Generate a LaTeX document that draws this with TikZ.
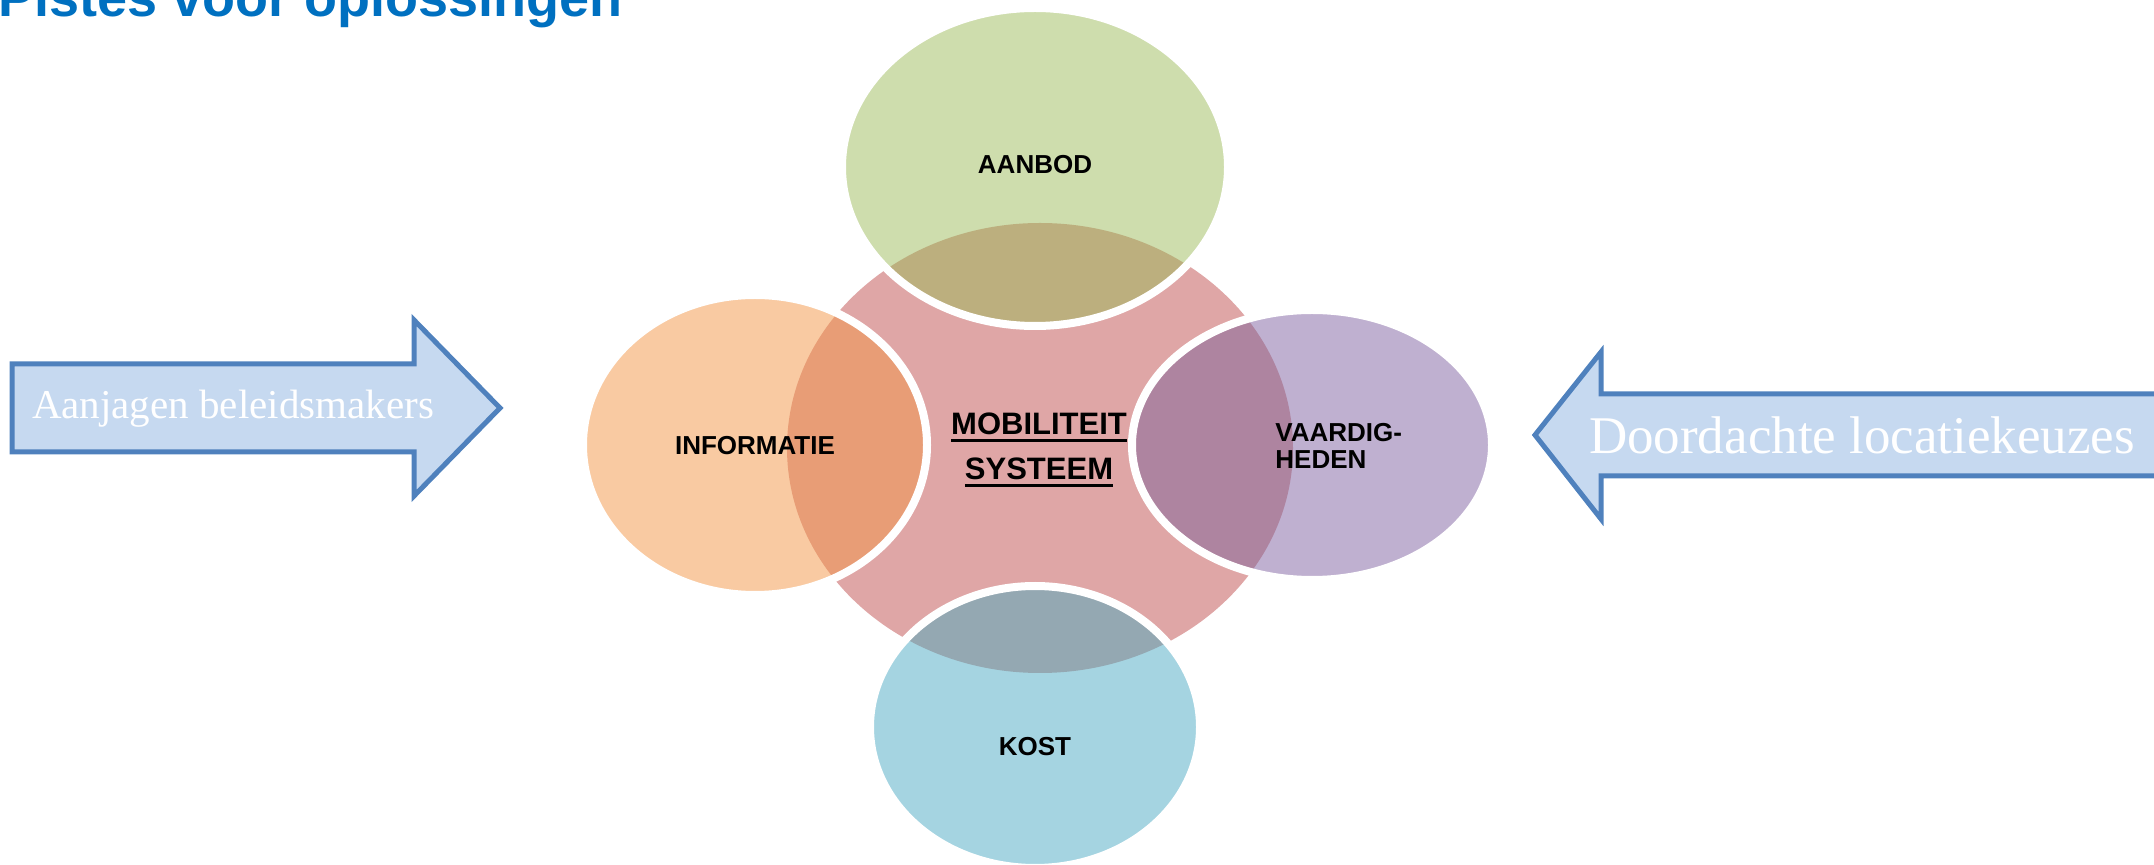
\documentclass[tikz,border=0pt]{standalone}
\usepackage{fontspec}
\setmainfont{Liberation Serif}
\setsansfont{Liberation Sans}
\usepackage{tikz}
\newcommand\mbunder[1]{\setbox0\hbox{#1}\rlap{\vrule height -2pt depth 3.4pt width \wd0}\box0}

\begin{document}
\begin{tikzpicture}[x=0.5pt,y=0.5pt,yscale=-1,xscale=1,
  lbl/.style={font=\sffamily\bfseries\fontsize{13}{15}\selectfont, text=black, inner sep=0},
  ctr/.style={font=\sffamily\bfseries\fontsize{15.5}{18}\selectfont, text=black, inner sep=0},
  rim/.style={draw=white, line width=4pt},
  blockarrow/.style={draw={rgb, 255:red, 79; green, 129; blue, 189 }, fill={rgb, 255:red, 198; green, 217; blue, 240 }, line width=2.5pt, line join=miter},
  arrowtext/.style={text=white, inner sep=0}]
\useasboundingbox (0,0) rectangle (2154,865);

%Text Node: title
\node [anchor=base west, inner sep=0, text={rgb, 255:red, 0; green, 112; blue, 192 }, font=\sffamily\bfseries\fontsize{27}{32}\selectfont] (title) at (-2,17) {Pistes voor oplossingen};

%Shape: Ellipse [centre]
\fill [color={rgb, 255:red, 223; green, 166; blue, 166 }] (1040,448) ellipse [x radius=253, y radius=225];

%Shape: Ellipse [top]
\fill [color={rgb, 255:red, 206; green, 221; blue, 173 }] (1035,167) ellipse [x radius=193, y radius=159];
\begin{scope}
\clip (1040,448) ellipse [x radius=253, y radius=225];
\fill [color={rgb, 255:red, 188; green, 175; blue, 126 }] (1035,167) ellipse [x radius=193, y radius=159];
\end{scope}
\draw [rim] (1035,167) ellipse [x radius=193, y radius=159];

%Shape: Ellipse [left]
\fill [color={rgb, 255:red, 249; green, 202; blue, 162 }] (755,445) ellipse [x radius=172, y radius=150];
\begin{scope}
\clip (1040,448) ellipse [x radius=253, y radius=225];
\fill [color={rgb, 255:red, 232; green, 157; blue, 118 }] (755,445) ellipse [x radius=172, y radius=150];
\end{scope}
\draw [rim] (755,445) ellipse [x radius=172, y radius=150];

%Shape: Ellipse [right]
\fill [color={rgb, 255:red, 191; green, 176; blue, 208 }] (1312,445) ellipse [x radius=180, y radius=135];
\begin{scope}
\clip (1040,448) ellipse [x radius=253, y radius=225];
\fill [color={rgb, 255:red, 174; green, 132; blue, 160 }] (1312,445) ellipse [x radius=180, y radius=135];
\end{scope}
\draw [rim] (1312,445) ellipse [x radius=180, y radius=135];

%Shape: Ellipse [bottom]
\fill [color={rgb, 255:red, 165; green, 212; blue, 225 }] (1035,727) ellipse [x radius=165, y radius=141];
\begin{scope}
\clip (1040,448) ellipse [x radius=253, y radius=225];
\fill [color={rgb, 255:red, 148; green, 168; blue, 178 }] (1035,727) ellipse [x radius=165, y radius=141];
\end{scope}
\draw [rim] (1035,727) ellipse [x radius=165, y radius=141];

%Text Nodes: ellipses
\node [ctr, anchor=base] (mob) at (1039,435) {\mbunder{MOBILITEIT}};
\node [ctr, anchor=base] (sys) at (1039,480) {\mbunder{SYSTEEM}};
\node [lbl, anchor=base] (aanbod) at (1035,174) {AANBOD};
\node [lbl, anchor=base] (info) at (755,455) {INFORMATIE};
\node [lbl, anchor=base west] (vaar) at (1275,442) {VAARDIG-};
\node [lbl, anchor=base west] (heden) at (1275,469) {HEDEN};
\node [lbl, anchor=base] (kost) at (1035,755) {KOST};

%Shape: Right Arrow
\draw [blockarrow] (12,364) -- (414,364) -- (414,320) -- (500,408) -- (414,496) -- (414,452) -- (12,452) -- cycle;
\node [arrowtext, anchor=base, font=\fontsize{20.5}{24}\selectfont] (beleid) at (233,419) {Aanjagen beleidsmakers};

%Shape: Left Arrow
\draw [blockarrow] (2170,394) -- (1601,394) -- (1601,352) -- (1535,435) -- (1601,519) -- (1601,476) -- (2170,476) -- cycle;
\node [arrowtext, anchor=base, font=\fontsize{26.5}{30}\selectfont] (locatie) at (1862,454) {Doordachte locatiekeuzes};

\end{tikzpicture}
\end{document}
